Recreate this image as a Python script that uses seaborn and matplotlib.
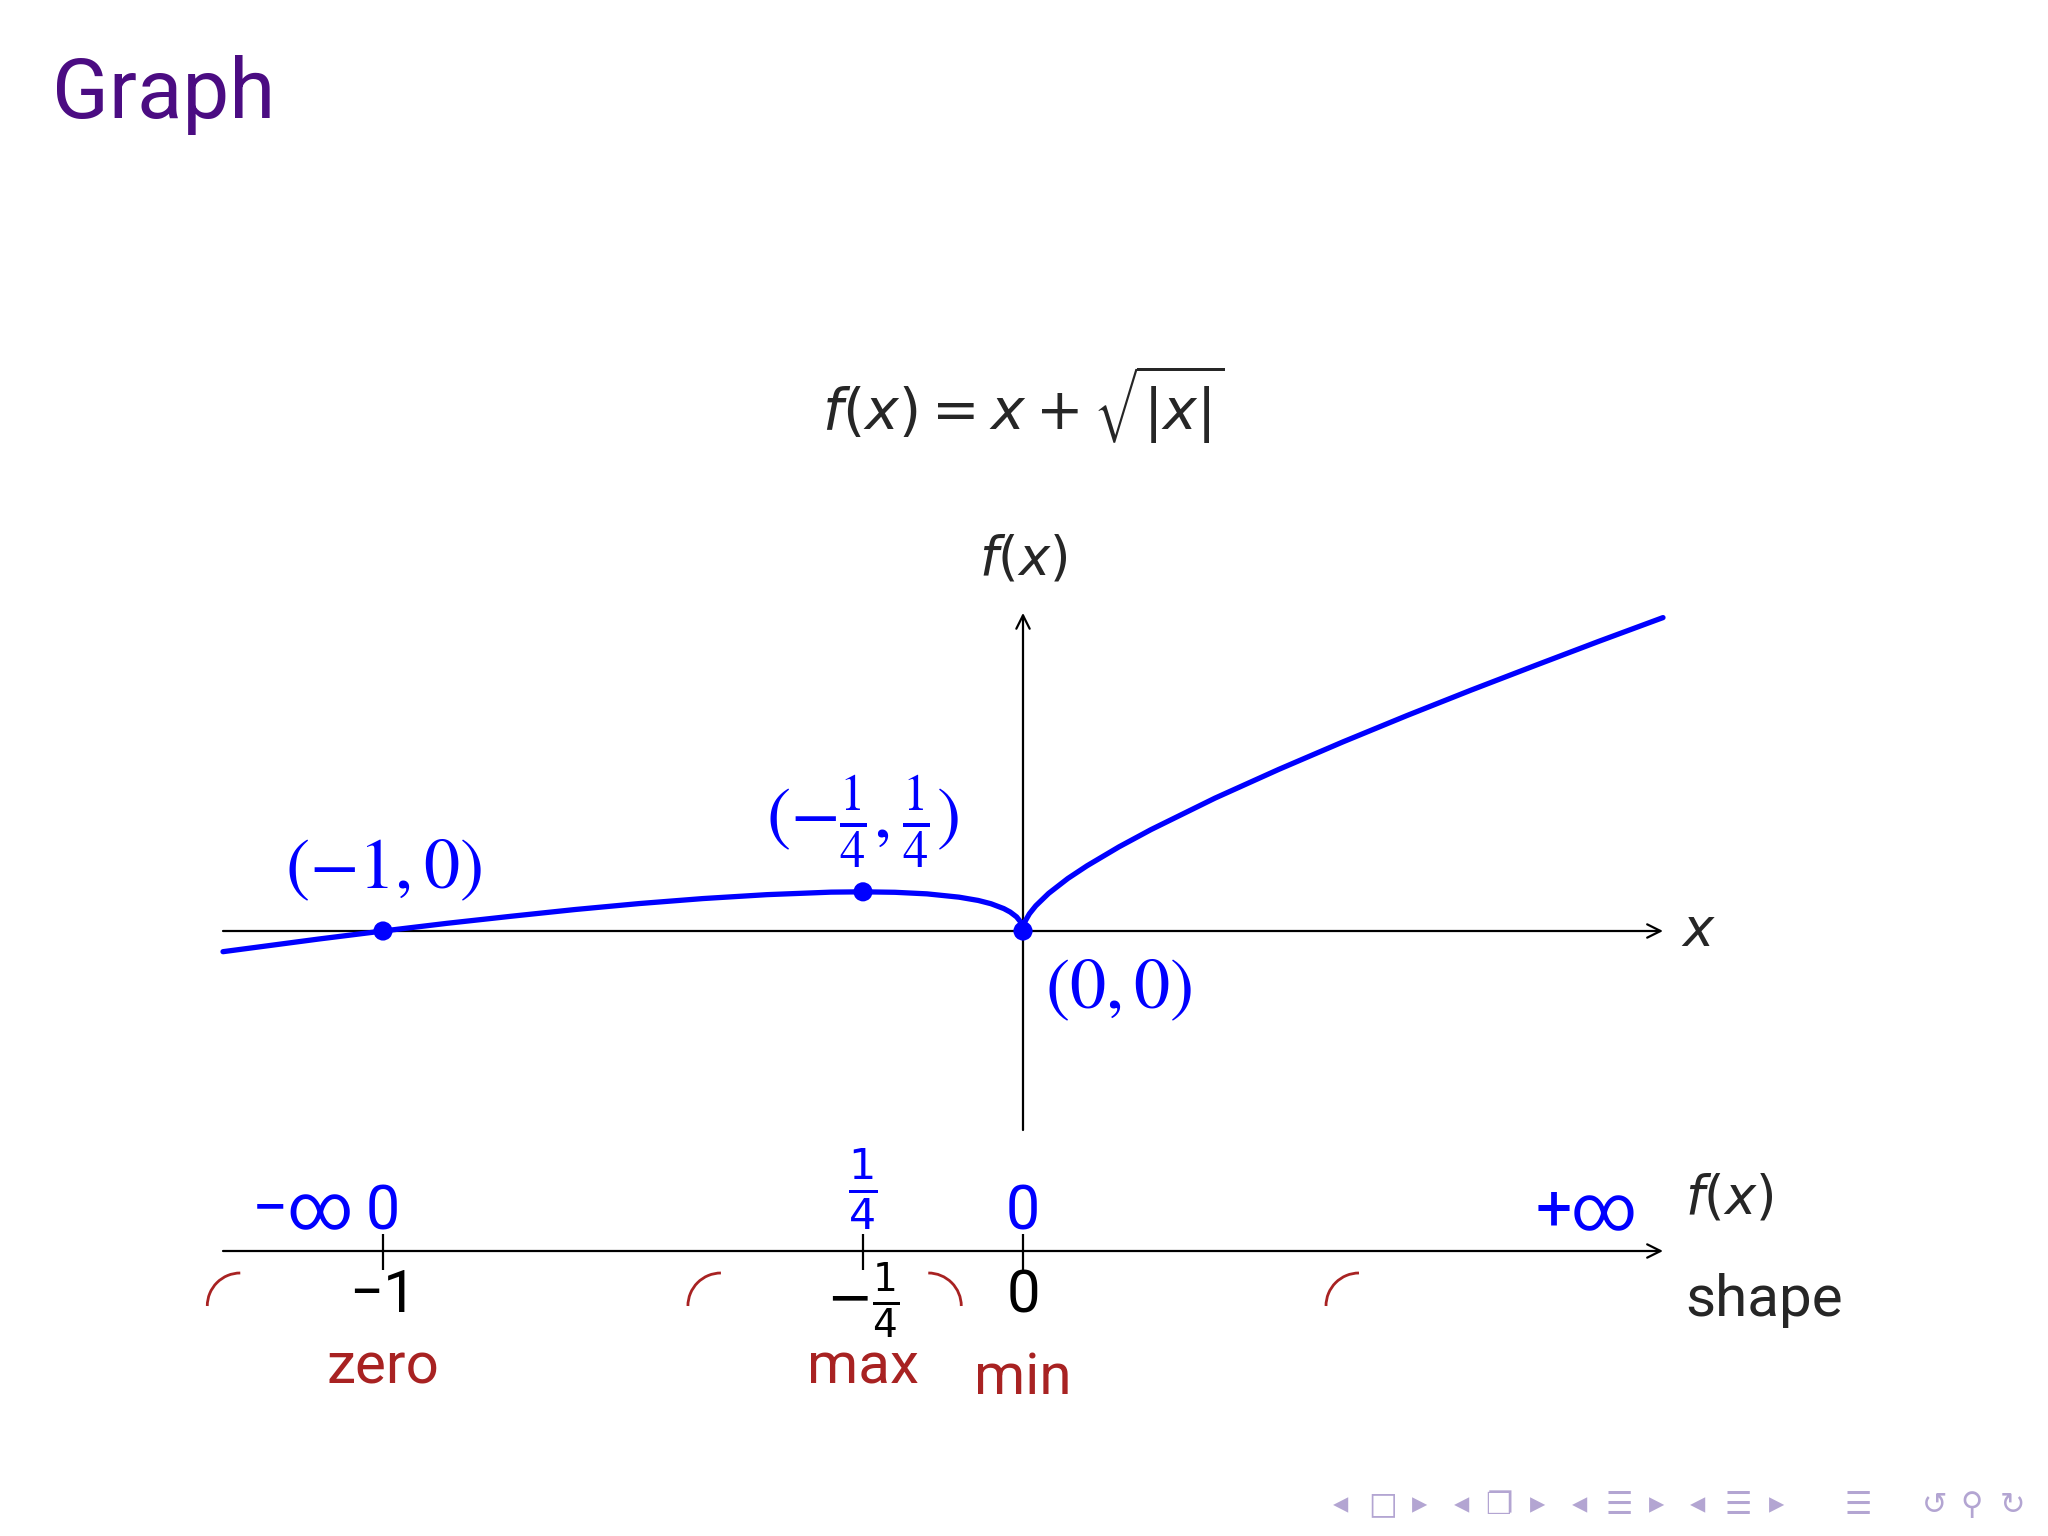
import matplotlib
matplotlib.use("Agg")
import matplotlib.pyplot as plt
from matplotlib.patches import Arc
import seaborn as sns

# curve values, f(x) = x + sqrt|x|
curve_x = [-1.25, -1.1, -1.0, -0.9, -0.8, -0.7, -0.6, -0.5, -0.4, -0.3, -0.25,
           -0.2, -0.15, -0.1, -0.07, -0.05, -0.03, -0.02, -0.01, -0.004, -0.001,
           0.0, 0.001, 0.004, 0.01, 0.02, 0.04, 0.07, 0.1, 0.15, 0.2, 0.3, 0.4,
           0.5, 0.6, 0.7, 0.8, 0.9, 1.0]
curve_y = [-0.132, -0.051, 0.0, 0.049, 0.094, 0.137, 0.175, 0.207, 0.232, 0.248, 0.25,
           0.247, 0.237, 0.216, 0.195, 0.174, 0.143, 0.121, 0.09, 0.059, 0.031,
           0.0, 0.033, 0.067, 0.11, 0.161, 0.24, 0.335, 0.416, 0.537, 0.647, 0.848, 1.032,
           1.207, 1.375, 1.537, 1.694, 1.849, 2.0]

# marked points
pt_x = [-1.0, -0.25, 0.0]
pt_y = [0.0, 0.25, 0.0]
pt_labels = [r"$(-1,0)$", r"$(-\frac{1}{4},\frac{1}{4})$", r"$(0,0)$"]

# sign / variation table
tab_x = [-1.0, -0.25, 0.0]
tab_x_labels = ["\u22121", r"$-\frac{1}{4}$", "0"]
tab_f_labels = ["0", r"$\frac{1}{4}$", "0"]
tab_shape = ["zero", "max", "min"]
arc_x = [-1.223, -0.472, -0.148, 0.525]
arc_side = ["left", "left", "right", "left"]

nav_icons = ["\u25c2", "\u25a1", "\u25b8", "\u25c2", "\u2750", "\u25b8", "\u25c2", "\u2630", "\u25b8",
             "\u25c2", "\u2630", "\u25b8", "\u2630", "\u21ba", "\u26b2", "\u21bb"]
nav_px = [1341, 1383, 1420, 1462, 1499, 1538, 1580, 1619, 1657, 1698, 1738, 1777, 1858, 1935, 1972, 2012]

BLUE = "#0000ff"
RED = "#a82222"
PURPLE = "#4b0c82"

sns.set_style("white")
plt.rcParams["font.family"] = ["Roboto", "DejaVu Sans"]
plt.rcParams["mathtext.fontset"] = "dejavusans"

W, H = 2048, 1536
fig = plt.figure(figsize=(W / 100, H / 100), dpi=100)
fig.patch.set_facecolor("white")


def px_rect(left, top, right, bottom):
    return [left / W, 1 - bottom / H, (right - left) / W, (bottom - top) / H]


# pixel mapping of the drawing
X0, XU = 1023, 640
Y0, YU = 931, 156.7
xlim = (-1.35, 1.25)
ylim = (-1.35, 2.6)

ax = fig.add_axes(px_rect(X0 + xlim[0] * XU, Y0 - ylim[1] * YU,
                          X0 + xlim[1] * XU, Y0 - ylim[0] * YU))
ax.set_xlim(xlim)
ax.set_ylim(ylim)
ax.axis("off")

arrow = dict(arrowstyle="->", lw=1.6, color="black", shrinkA=0, shrinkB=0, mutation_scale=24)
ax.annotate("", xy=(1.0, 0), xytext=(-1.25, 0), arrowprops=arrow)
ax.annotate("", xy=(0, 2.03), xytext=(0, -1.27), arrowprops=arrow)

sns.lineplot(x=curve_x, y=curve_y, ax=ax, color=BLUE, lw=3.8, zorder=3)
sns.scatterplot(x=pt_x, y=pt_y, ax=ax, color=BLUE, s=190, edgecolor="none", zorder=4)

label_pos = [(-1.0, 0.40), (-0.25, 0.69), (0.15, -0.37)]
for (lx, ly), lab in zip(label_pos, pt_labels):
    ax.text(lx, ly, lab, color=BLUE, fontsize=52, ha="center", va="center",
            math_fontfamily="stix")

ax.text(0, 2.37, r"$f(x)$", fontsize=38, ha="center", va="center")
ax.text(1.055, 0, r"$x$", fontsize=38, ha="center", va="center")

# title and formula
fig.text(52 / W, 1 - 118 / H, "Graph", color=PURPLE, fontsize=60, ha="left", va="baseline")
fig.text(X0 / W, 1 - 405 / H, r"$f(x) = x + \sqrt{|x|}$", fontsize=41, ha="center", va="center")

# table axes: data y = pixels from the figure bottom
ax2 = fig.add_axes(px_rect(X0 + xlim[0] * XU, 1140, X0 + xlim[1] * XU, 1450))
ax2.set_xlim(xlim)
ax2.set_ylim(H - 1450, H - 1140)
ax2.axis("off")


def ty(p):
    return H - p


ax2.annotate("", xy=(1.0, ty(1251)), xytext=(-1.25, ty(1251)), arrowprops=arrow)
ax2.vlines(tab_x, ty(1270), ty(1234), color="black", lw=1.6)

for tx, fl in zip(tab_x, tab_f_labels):
    if fl.startswith("$"):
        ax2.text(tx, ty(1231), fl, color=BLUE, fontsize=44, ha="center", va="bottom")
    else:
        ax2.text(tx, ty(1229), fl, color=BLUE, fontsize=44, ha="center", va="baseline")
ax2.text(-1.125, ty(1229), "\u2212\u221e", color=BLUE, fontsize=46, ha="center", va="baseline")
ax2.text(0.88, ty(1229), "+\u221e", color=BLUE, fontsize=46, ha="center", va="baseline")

for tx, xl in zip(tab_x, tab_x_labels):
    yy = 1300 if xl.startswith("$") else 1296
    fs = 40 if xl.startswith("$") else 43
    ax2.text(tx, ty(yy), xl, color="black", fontsize=fs, ha="center", va="center")

for tx, sl in zip(tab_x, tab_shape):
    yy = 1379 if sl == "min" else 1368
    ax2.text(tx, ty(yy), sl, color=RED, fontsize=42, ha="center", va="center")

ax2.text(1.034, ty(1199), r"$f(x)$", fontsize=38, ha="left", va="center")
ax2.text(1.034, ty(1300), "shape", fontsize=42, ha="left", va="center")

r_px = 33
for ax_c, side in zip(arc_x, arc_side):
    t1, t2 = (90, 180) if side == "left" else (0, 90)
    ax2.add_patch(Arc((ax_c, ty(1306)), width=2 * r_px / XU, height=2 * r_px,
                      theta1=t1, theta2=t2, color=RED, lw=2))

# beamer navigation symbols
for ic, xp in zip(nav_icons, nav_px):
    fig.text(xp / W, 1 - 1505 / H, ic, color="#b3a5d2", fontsize=22, ha="center", va="center",
             family=["DejaVu Sans"])

fig.savefig("out.png", dpi=100, facecolor="white")
